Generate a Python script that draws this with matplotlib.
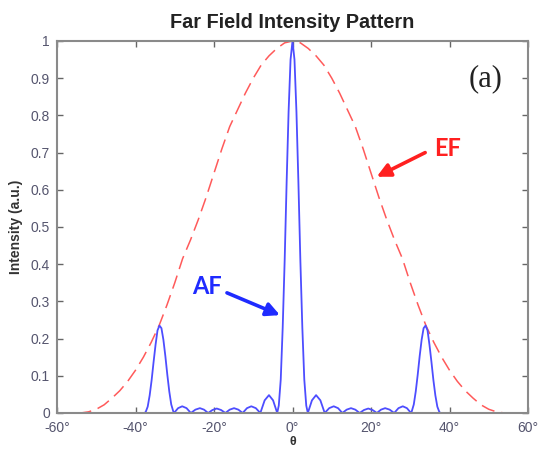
import matplotlib
matplotlib.use("Agg")
import matplotlib.pyplot as plt

# ---- data ----
ef_theta = [-60, -54, -52, -50, -48, -46, -44, -42, -40, -38, -36, -34, -32, -30, -28,
            -26, -24, -22, -20, -18, -16, -14, -12, -10, -8, -6, -4, -2, 0,
            2, 4, 6, 8, 10, 12, 14, 16, 18, 20, 22, 24, 26, 28, 30, 32, 34, 36,
            38, 40, 42, 44, 46, 48, 50, 52, 54, 60]
ef_val = [0.0, 0.0, 0.003, 0.01, 0.022, 0.04, 0.06, 0.085, 0.115, 0.15, 0.19, 0.235, 0.29, 0.35, 0.415,
          0.465, 0.52, 0.58, 0.645, 0.71, 0.77, 0.815, 0.86, 0.90, 0.935, 0.96, 0.98, 0.995, 1.0,
          0.995, 0.98, 0.96, 0.935, 0.90, 0.86, 0.815, 0.77, 0.71, 0.645, 0.58, 0.52, 0.465, 0.415, 0.35, 0.29, 0.235, 0.19,
          0.15, 0.115, 0.085, 0.06, 0.04, 0.022, 0.01, 0.003, 0.0, 0.0]

af_theta = [-60, -40, -37.7, -37.4, -36.9, -36.4, -35.9, -35.4, -34.9, -34.4, -33.9,
            -33.4, -32.9, -32.4, -31.9, -31.4, -30.9, -30.4, -30.2,
            -29.15, -28.1, -27.0, -25.9, -24.75, -23.6, -22.55, -21.5, -20.4, -19.3, -18.2, -17.1,
            -16.0, -14.9, -13.8, -12.7, -11.6, -10.5, -9.35, -8.2, -7.1, -6.0, -4.95, -3.9,
            -3.5, -3.0, -2.5, -2.0, -1.5, -1.0, -0.5, 0.0, 0.5, 1.0, 1.5, 2.0, 2.5, 3.0, 3.5,
            3.9, 4.95, 6.0, 7.1, 8.2, 9.35, 10.5, 11.6, 12.7, 13.8, 14.9, 16.0, 17.1,
            18.2, 19.3, 20.4, 21.5, 22.55, 23.6, 24.75, 25.9, 27.0, 28.1, 29.15, 30.2,
            30.4, 30.9, 31.4, 31.9, 32.4, 32.9, 33.4, 33.9,
            34.4, 34.9, 35.4, 35.9, 36.4, 36.9, 37.4, 37.7, 40, 60]
af_val = [0.0, 0.0, 0.0, 0.003, 0.017, 0.047, 0.088, 0.137, 0.183, 0.222, 0.235,
          0.228, 0.197, 0.153, 0.103, 0.058, 0.023, 0.005, 0.0,
          0.013, 0.018, 0.013, 0.0, 0.009, 0.013, 0.009, 0.0, 0.008, 0.012, 0.008, 0.0,
          0.009, 0.013, 0.009, 0.0, 0.013, 0.018, 0.013, 0.0, 0.034, 0.048, 0.034, 0.0,
          0.02, 0.09, 0.23, 0.41, 0.62, 0.81, 0.95, 1.0, 0.95, 0.81, 0.62, 0.41, 0.23, 0.09, 0.02,
          0.0, 0.034, 0.048, 0.034, 0.0, 0.013, 0.018, 0.013, 0.0, 0.009, 0.013, 0.009, 0.0,
          0.008, 0.012, 0.008, 0.0, 0.009, 0.013, 0.009, 0.0, 0.013, 0.018, 0.013, 0.0,
          0.005, 0.023, 0.058, 0.103, 0.153, 0.197, 0.228, 0.235,
          0.222, 0.183, 0.137, 0.088, 0.047, 0.017, 0.003, 0.0, 0.0, 0.0]

x_ticks = [-60, -40, -20, 0, 20, 40, 60]
x_tick_labels = ["-60°", "-40°", "-20°", "0°", "20°", "40°", "60°"]
y_ticks = [0, 0.1, 0.2, 0.3, 0.4, 0.5, 0.6, 0.7, 0.8, 0.9, 1]
y_tick_labels = ["0", "0.1", "0.2", "0.3", "0.4", "0.5", "0.6", "0.7", "0.8", "0.9", "1"]

plt.rcParams['font.family'] = ['Liberation Sans', 'DejaVu Sans']

fig = plt.figure(figsize=(5.39, 4.49), dpi=100)
ax = fig.add_axes([0.1058, 0.0802, 0.8738, 0.8285])

ax.plot(ef_theta, ef_val, color='#ff5a5a', lw=1.1, dashes=(9, 4.5))
ax.plot(af_theta, af_val, color='#4d4dff', lw=1.3)

ax.set_xlim(-60, 60)
ax.set_ylim(0, 1)
ax.set_xticks(x_ticks)
ax.set_xticklabels(x_tick_labels)
ax.set_yticks(y_ticks)
ax.set_yticklabels(y_tick_labels)
ax.tick_params(direction='in', length=4, width=1, color='#666666',
               top=True, right=True, labelsize=10, labelcolor='#55556e')
ax.tick_params(axis='x', pad=6)
ax.tick_params(axis='y', pad=5)
for s in ax.spines.values():
    s.set_color('#8a8a8a')
    s.set_linewidth(1.5)

ax.set_title("Far Field Intensity Pattern", fontsize=14.3, fontweight='bold', color='#222222', pad=9)
ax.set_xlabel("θ", fontsize=9, fontweight='bold', color='#333333')
ax.xaxis.set_label_coords(0.5, -0.063)
ax.set_ylabel("Intensity (a.u.)", fontsize=10, fontweight='bold', color='#333333')
ax.yaxis.set_label_coords(-0.072, 0.5)

# annotations
arrow_kw = dict(arrowstyle='-|>,head_length=0.8,head_width=0.4', lw=2.6, shrinkA=0, shrinkB=0)
ax.annotate("", xy=(-3.2, 0.263), xytext=(-16.7, 0.323),
            arrowprops=dict(color='#1f2bff', **arrow_kw))
ax.text(-21.7, 0.34, "AF", fontsize=17, fontweight='bold', color='#1f2bff',
        family=['Lato', 'DejaVu Sans'], ha='center', va='center')
ax.annotate("", xy=(21.45, 0.635), xytext=(33.8, 0.70),
            arrowprops=dict(color='#ff2020', **arrow_kw))
ax.text(39.5, 0.71, "EF", fontsize=17, fontweight='bold', color='#ff2020',
        family=['Lato', 'DejaVu Sans'], ha='center', va='center')
ax.text(49.3, 0.898, "(a)", fontsize=22, color='#222222',
        family=['Liberation Serif', 'DejaVu Serif'], ha='center', va='center')

fig.savefig("out.png", dpi=100)
